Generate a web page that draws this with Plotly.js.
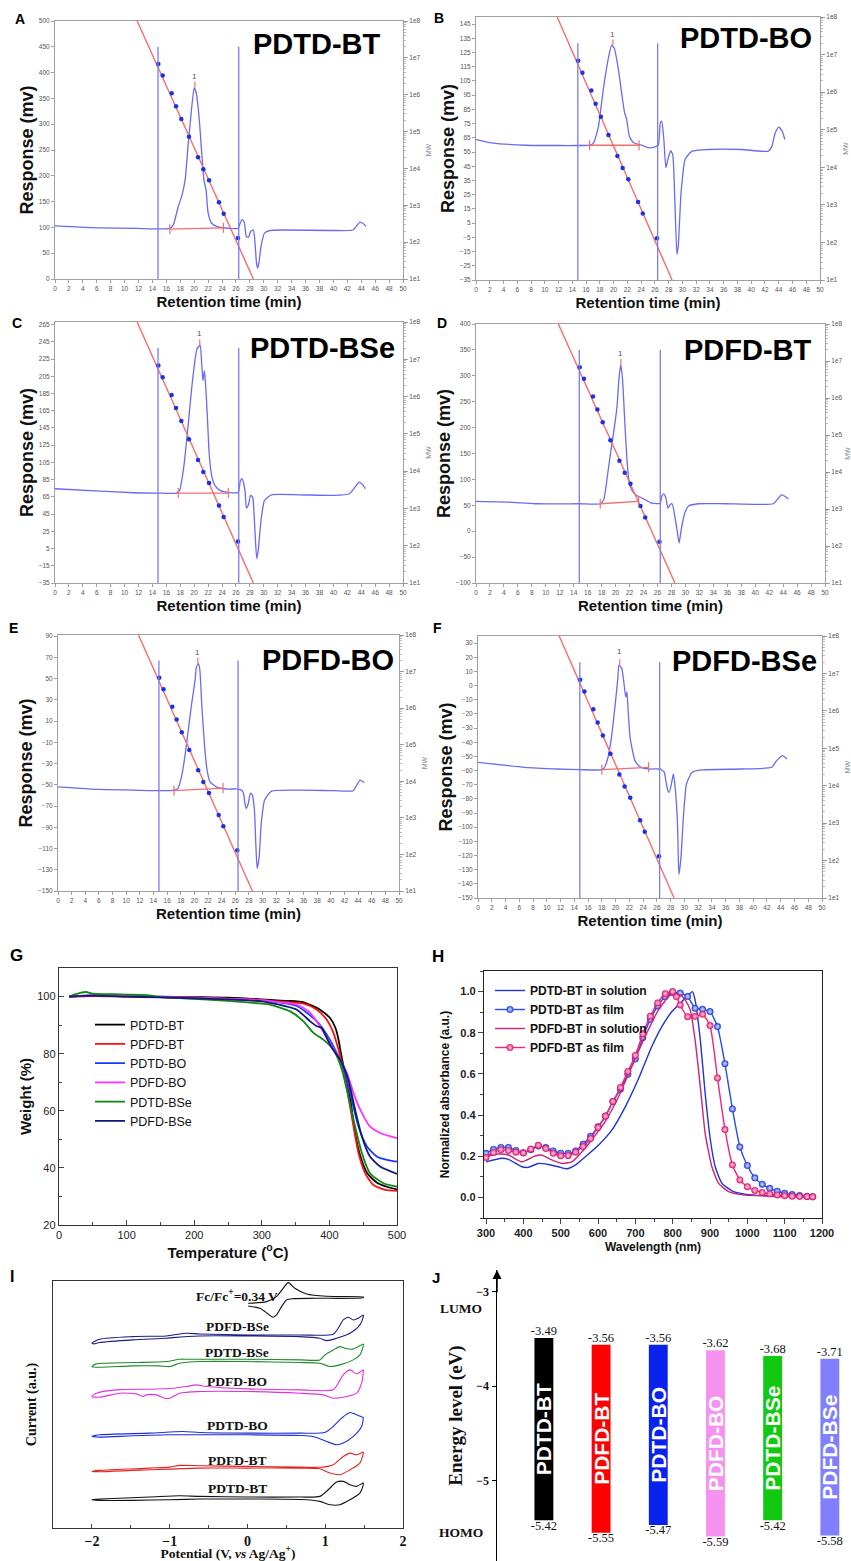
<!DOCTYPE html>
<html><head><meta charset="utf-8">
<script src="https://cdn.plot.ly/plotly-3.0.1.min.js"></script>
<style>html,body{margin:0;padding:0;background:#fff}#chart{width:851px;height:1561px}</style>
</head><body><div id="chart"></div>
<script>
// ================= DATA =================
// --- GPC traces (retention time in min, response in mV) ---
const timeA = [0,6.5,11.7,14.8,16.5,17,17.7,18.2,18.7,19.1,19.6,20,20.3,20.7,21.05,21.4,21.7,22,22.5,23.2,25.1,26.3,26.6,26.9,27.2,27.5,27.8,28.1,28.5,28.7,28.95,29.1,29.3,29.6,30.1,30.9,32.8,40,42.8,43.3,43.8,44.3,44.7];
const respA = [103,99,98,97,98,105,140,160,192,256,327,371,360,314,250,192,173,128,108,102,98,98,108,115,110,82,81,92,95,76,31,21,31,63,89,94,95,94,95,102,110,107,102];
const timeB = [0,2.3,7.2,12,14.8,16.6,17.1,17.8,18.5,19.2,19.7,20.1,20.7,21.3,21.6,21.9,22.3,22.9,24.1,25.1,26,26.5,26.8,27,27.3,27.6,27.9,28.3,28.6,28.9,29.2,29.4,29.8,30.4,31.4,33.8,38.6,42.5,43,43.5,44,44.5,44.9];
const respB = [63.8,61.5,59.8,59.6,59.6,59.8,61.5,73,99,120,130,128,113,92,82.6,78,66,61.5,59.8,58,58.6,60,75.6,76.8,64,44,50,56,53,21.5,-17,-11,26,50,55.6,56.8,56.8,55.6,59,68.5,72.5,69.7,63.8];
const timeC = [0,6.5,11.2,14.7,17.5,17.9,18.5,19.1,19.6,20.1,20.4,20.85,21.05,21.25,21.45,21.6,21.9,22.15,22.5,23,23.7,25.1,26.3,26.65,26.9,27.3,27.5,27.8,28.1,28.4,28.6,28.85,29,29.2,29.6,30.1,31.1,35.2,40,42.3,43.1,43.7,44.3,44.6];
const respC = [74.4,71.7,69.8,69.4,69.4,72.5,99.5,146,188,223,236.7,241,223,200,211.6,200,157,115,90,78,72.5,70,70,84,86,72.5,52,56,66.7,64.7,45.4,6.7,-6.8,2.9,37.7,60.9,67.4,67.4,66.7,68.6,76.3,82,78,74.4];
const timeD = [0,4.7,8.5,14.7,17.8,18.3,18.75,19.2,19.7,20.2,20.5,20.75,21,21.3,21.6,21.9,22.3,22.9,23.8,25.2,26.4,26.6,26.9,27.2,27.5,27.8,28.1,28.4,28.8,29.1,29.4,29.9,30.5,31.9,35.7,42.6,43.2,43.8,44.3,44.75];
const respD = [57.5,56,53,53,53,60.7,99,144,189,240.6,298,321,292,215,144,99,80,70,64,54,54,67,72,64,44.6,51,53,35,3,-23,3,35,49,53,53,53,62,70,67,62];
const timeE = [0,6.1,11,14.9,17.1,17.6,18.1,18.6,19.1,19.6,20.1,20.3,20.6,20.8,21.1,21.5,21.9,22.3,23.2,24.7,26.4,26.9,27.2,27.4,27.6,27.9,28.2,28.5,28.8,29,29.2,29.5,29.8,30.3,31.3,35.5,40.4,43.3,43.8,44.3,44.9];
const respE = [-51.9,-54.4,-55,-55.6,-55,-53.4,-42.5,-23.7,1.4,26.5,48.4,61,64,57.8,23.4,-14.3,-37.8,-47.2,-51.9,-54,-54,-55,-58,-67.6,-72.3,-67.6,-58,-59.7,-73.8,-105,-128.7,-117.7,-86.4,-64.4,-56,-55,-55.6,-55.6,-50.3,-45.6,-48];
const timeF = [0,6.8,11.65,14.8,18,18.4,18.9,19.4,19.9,20.3,20.5,20.9,21.1,21.4,21.5,21.65,21.85,22.1,22.4,22.8,23.5,24.8,26.5,26.8,27.1,27.3,27.6,27.8,28.2,28.4,28.7,29,29.2,29.5,29.85,30.3,31.1,32.5,38.3,42.7,43.4,44.3,44.9];
const respF = [-54.2,-57.7,-58.9,-59.4,-59.4,-57.7,-50.6,-36.4,-15.2,3.8,14.4,12,6.1,-5.7,-8.1,-4.5,-19.9,-36.4,-44.7,-53,-57.2,-58.9,-58.9,-60,-61.3,-67.2,-74.3,-75.4,-67.2,-62.4,-74.3,-97.9,-133.4,-121.5,-93.2,-69.5,-61.3,-59.6,-58.9,-57.7,-53,-49.4,-51.8];
const gpcNames = ['PDTD-BT','PDTD-BO','PDTD-BSe','PDFD-BT','PDFD-BO','PDFD-BSe'];
// calibration standards (retention time, MW) and calibration line
const stdTime = [14.85,15.47,16.76,17.39,18.15,19.25,20.55,21.31,22.13,23.56,24.24,26.29];
const stdMW = [6.8e6,3.3e6,1.1e6,4.9e5,2.2e5,7.2e4,2.0e4,9.5e3,4.8e3,1.2e3,5.9e2,1.3e2];
const calLineT = [11.8,28.5];
const calLineMW = [1e8,1e1];
// integration limits and baselines
const limitT = [14.8,26.4];
const baseT0 = [16.5,16.5,17.7,17.8,17.0,18.0];
const baseT1 = [24.2,23.7,24.9,23.3,24.2,24.8];
const baseY0 = [96.6,59.8,69.4,53,-55.6,-59.4];
const baseY1 = [99.2,59.8,69.4,57.5,-53.1,-57.7];
const peakT = [20.1,19.9,20.8,20.75,20.5,20.6];
const peakLabelY = [393,138,255,343,75,23.9];

// --- TGA (G) ---
const tgaNames = ['PDTD-BT','PDFD-BT','PDTD-BO','PDFD-BO','PDTD-BSe','PDFD-BSe'];
const tgaT_PDTD_BT = [15,50,100,150,200,250,300,312,338,362,386,401,409,413,417,423,431,438,446,456,470,485,500];
const tgaW_PDTD_BT = [100,100.3,100.1,100,99.8,99.6,99,98.8,98.5,98,95.4,92.5,89,85.5,80.2,73.2,63.9,52.2,44,38.1,34.9,33.4,32.5];
const tgaT_PDFD_BT = [15,50,100,150,200,250,300,312,362,381.5,396,406,413.5,421,428,435.7,443,453,465,483,500];
const tgaW_PDFD_BT = [100,100.2,100,99.8,99.6,99.3,98.8,98.5,97.5,95.4,91.9,87.3,81.4,74.4,65,54.5,45.2,38.1,34,32.3,32];
const tgaT_PDTD_BO = [15,50,100,150,200,250,300,312,351.8,366.6,381.5,396,411,423,433,443,455.6,470,485,500];
const tgaW_PDTD_BO = [100,100.4,100.2,99.8,99.5,99.2,98.6,98.4,96.7,94.3,91.3,86.7,80.2,73.2,63.9,54.5,47.5,44,42.8,42.2];
const tgaT_PDFD_BO = [15,50,100,150,200,250,300,312,351.8,371.6,386,403.7,416,426,435.7,445.6,460,475,500];
const tgaW_PDFD_BO = [100,100.5,100.2,99.8,99.6,99.2,98.7,98.4,97.2,94.3,89.6,82.6,77.9,73.2,66.2,60.4,54.5,52.2,50.4];
const tgaT_PDTD_BSe = [15,30,40,50,80,100,130,150,200,250,300,312,342,361.6,376.4,391,406,418.5,428,438,448,460,480,500];
const tgaW_PDTD_BSe = [100,101.2,101.6,101,100.8,100.7,100.5,99.8,99.2,98.5,97.5,97.2,94.8,91.3,87.3,84.9,81.4,74.4,65,54.5,45.2,38.1,34.6,33.4];
const tgaT_PDFD_BSe = [15,50,100,150,200,250,300,312,351.8,371.6,381.5,388.8,393.7,403.7,416,428,438,448,460,475,500];
const tgaW_PDFD_BSe = [100,100.3,100,99.7,99.4,99,98.3,97.8,95.4,91.3,89.6,89,86.7,82,77.9,70.9,60.4,51,44,40.5,37.9];

// --- UV-vis (H) ---
const uvNames = ['PDTD-BT in solution','PDTD-BT as film','PDFD-BT in solution','PDFD-BT as film'];
const wlSolPDTD = [300,342,360,396,413,440,467,494,516,539,566,601,637,673,709,744,771,798,824,842,853,860,874,887,901,914,932,959,994,1075,1178];
const absSolPDTD = [0.173,0.19,0.185,0.149,0.146,0.165,0.16,0.149,0.139,0.157,0.198,0.254,0.327,0.44,0.579,0.733,0.83,0.903,0.951,0.984,1.0,0.96,0.765,0.506,0.279,0.149,0.068,0.032,0.016,0.006,0.003];
const wlFilmPDTD = [300,320,340,360,380,400,420,440,460,480,500,520,540,560,580,600,620,640,660,680,700,720,740,760,780,800,820,840,860,880,900,920,940,960,980,1000,1020,1040,1060,1080,1100,1120,1140,1160,1175];
const absFilmPDTD = [0.214,0.233,0.243,0.243,0.228,0.217,0.232,0.25,0.243,0.226,0.215,0.214,0.226,0.258,0.297,0.343,0.395,0.466,0.525,0.598,0.672,0.776,0.865,0.93,0.975,0.995,0.993,0.976,0.919,0.914,0.903,0.83,0.65,0.43,0.245,0.155,0.095,0.064,0.044,0.03,0.02,0.014,0.009,0.005,0.003];
const wlSolPDFD = [300,333,360,396,431,449,476,503,530,557,583,619,655,690,726,762,789,802,820,833,847,860,874,887,905,923,950,994,1075,1178];
const absSolPDFD = [0.198,0.211,0.206,0.173,0.201,0.206,0.182,0.165,0.173,0.222,0.279,0.368,0.489,0.635,0.781,0.911,0.976,0.992,0.984,0.96,0.911,0.765,0.538,0.311,0.149,0.068,0.028,0.011,0.006,0.003];
const wlFilmPDFD = [300,320,340,360,380,400,420,440,460,480,500,520,540,560,580,600,620,640,660,680,700,720,740,760,780,800,810,820,840,860,880,900,920,940,960,980,1000,1020,1040,1060,1080,1100,1120,1140,1160,1175];
const absFilmPDFD = [0.194,0.218,0.232,0.228,0.22,0.216,0.235,0.253,0.238,0.214,0.202,0.203,0.22,0.247,0.286,0.34,0.395,0.466,0.534,0.612,0.69,0.795,0.88,0.945,0.99,1.0,0.975,0.935,0.878,0.88,0.89,0.835,0.58,0.33,0.158,0.085,0.052,0.034,0.024,0.017,0.012,0.008,0.006,0.005,0.004,0.003];

// --- Cyclic voltammetry (I): potential (V) and current (a.u., offset) ---
const cvNames = ['PDFD-BSe','PDTD-BSe','PDFD-BO','PDTD-BO','PDFD-BT','PDTD-BT'];
const cvFcV = [0.009,0.245,0.373,0.459,0.524,0.609,0.76,1.017,1.489,1.489,0.888,0.588,0.502,0.438,0.373,0.33,0.266,0.159,0.009];
const cvFcI = [6.75,6.8,6.95,7.2,7.37,7.2,7.03,6.96,6.94,6.92,6.9,6.89,6.85,6.65,6.4,6.33,6.43,6.6,6.67];
const cvV_PDFD_BSe = [-2,-1.901,-1.472,-1.043,-0.785,-0.614,0,0.674,1.103,1.167,1.232,1.296,1.361,1.425,1.489,1.489,1.446,1.318,1.146,1.017,0.931,0.674,0,-0.614,-0.957,-1.043,-1.472,-1.901,-1.974,-2];
const cvI_PDFD_BSe = [5.55,5.67,5.75,5.77,5.85,5.83,5.8,5.8,5.82,6.0,6.25,6.33,6.25,6.3,6.4,6.35,6.1,5.85,5.7,5.63,5.7,5.75,5.77,5.77,5.72,5.7,5.65,5.57,5.53,5.55];
const cvV_PDTD_BSe = [-2,-1.944,-1.472,-1.043,-0.871,-0.785,0,0.674,0.931,0.996,1.103,1.189,1.253,1.339,1.425,1.489,1.489,1.446,1.361,1.189,1.06,0.931,0.674,0,-0.614,-0.871,-1.0,-1.129,-1.472,-1.901,-2];
const cvI_PDTD_BSe = [4.85,4.93,4.97,5.0,5.07,5.07,5.07,5.05,5.05,5.2,5.35,5.45,5.4,5.37,5.45,5.53,5.47,5.2,5.05,4.9,4.85,4.95,4.97,5.0,5.0,4.95,4.85,4.87,4.87,4.83,4.85];
const cvV_PDFD_BO = [-2,-1.944,-1.687,-1.258,-0.957,-0.785,-0.657,-0.528,0,0.674,1.103,1.167,1.232,1.318,1.403,1.489,1.489,1.468,1.403,1.275,1.103,0.974,0.674,0,-0.614,-0.871,-1.0,-1.064,-1.172,-1.3,-1.343,-1.429,-1.515,-1.644,-1.901,-2];
const cvI_PDFD_BO = [3.95,4.05,4.15,4.17,4.2,4.25,4.3,4.25,4.18,4.15,4.15,4.35,4.6,4.75,4.63,4.75,4.7,4.35,4.05,3.95,3.9,4.0,4.05,4.1,4.1,4.05,3.9,3.9,4.0,4.0,3.95,4.03,4.05,4.05,3.93,3.95];
const cvV_PDTD_BO = [-2,-1.901,-1.258,-0.828,-0.614,0,0.674,0.996,1.103,1.21,1.318,1.403,1.489,1.489,1.468,1.361,1.232,1.146,1.017,0.845,0.674,0,-0.614,-1.0,-1.472,-1.901,-2];
const cvI_PDTD_BO = [2.75,2.8,2.85,2.9,2.87,2.85,2.85,2.87,3.05,3.3,3.47,3.4,3.32,3.3,3.05,2.75,2.55,2.5,2.6,2.75,2.78,2.8,2.8,2.8,2.77,2.73,2.75];
const cvV_PDFD_BT = [-2,-1.901,-1.258,-1.0,-0.871,-0.614,0,0.674,0.974,1.103,1.232,1.318,1.403,1.489,1.489,1.446,1.318,1.189,1.06,0.931,0.674,0,-0.614,-1.0,-1.472,-1.901,-2];
const cvI_PDFD_BT = [1.7,1.73,1.8,1.83,1.88,1.87,1.85,1.83,1.83,1.9,2.15,2.25,2.2,2.28,2.25,1.95,1.75,1.6,1.65,1.78,1.8,1.8,1.8,1.77,1.73,1.69,1.7];
const cvV_PDTD_BT = [-2,-1.901,-1.258,-0.871,-0.614,0,0.674,0.931,1.039,1.146,1.232,1.318,1.403,1.489,1.489,1.446,1.318,1.189,1.06,0.931,0.76,0,-0.614,-1.0,-1.472,-1.901,-2];
const cvI_PDTD_BT = [0.85,0.87,0.93,0.97,0.95,0.93,0.93,0.95,1.15,1.38,1.4,1.3,1.25,1.35,1.3,1.05,0.85,0.7,0.7,0.8,0.85,0.87,0.87,0.85,0.83,0.83,0.85];
const cvLabelY = [6.04,5.26,4.39,3.09,2.04,1.2];
const fcLabel = 'Fc/Fc<sup>+</sup>=0.34 V';
const fcLabelY = 6.97;

// --- Energy levels (J) ---
const elNames = ['PDTD-BT','PDFD-BT','PDTD-BO','PDFD-BO','PDTD-BSe','PDFD-BSe'];
const lumo = [-3.49,-3.56,-3.56,-3.62,-3.68,-3.71];
const homo = [-5.42,-5.55,-5.47,-5.59,-5.42,-5.58];

// ================= BUILD =================
const W = 851, H = 1561;
const SANS = 'Liberation Sans, Arial, Helvetica, sans-serif';
const SERIF = 'Liberation Serif, Times New Roman, serif';
const suf = n => (n === 1 ? '' : String(n));
const fx = p => p / W;
const fy = p => 1 - p / H;

const traces = [];
const shapes = [];
const annotations = [];
const layout = {
  width: W, height: H, margin: {l:0, r:0, t:0, b:0},
  paper_bgcolor: '#fff', plot_bgcolor: 'rgba(0,0,0,0)',
  font: {family: SANS, color: '#000'},
  shapes: shapes, annotations: annotations
};

// ---------- A–F ----------
const gpcTimes = [timeA,timeB,timeC,timeD,timeE,timeF];
const gpcResps = [respA,respB,respC,respD,respE,respF];
const gpcBox = [[55,403,21,279],[476,820,17,280],[55,403,322,583],[476,825,324,583],[58,399,635,891],[478,822,636,898]];
const gpcYRange = [[0,500],[-35,150],[-35,268],[-100,400],[-150,91],[-150,35]];
const gpcDtick = [50,10,20,50,20,10];
const gpcTitlePos = [[317,44],[746,38],[322,348],[748,350],[328,660],[744,661]];
const letterPos = [[20,19],[439,18],[17,323],[442,323],[13,628],[437,628]];
const letters = ['A','B','C','D','E','F'];
const GPC_BLUE = '#6a6af4', GPC_RED = '#f26e6e', DOT = '#1633e8', LIM = '#7b7bf3';

for (let i = 0; i < 6; i++) {
  const n = i + 1, b = gpcBox[i];
  const xr = 'x' + suf(n), yr = 'y' + suf(n), rr = 'y' + (11 + i);
  layout['xaxis' + suf(n)] = {
    domain: [fx(b[0]), fx(b[1])], anchor: yr, range: [0, 50], tick0: 0, dtick: 2,
    ticks: 'outside', ticklen: 3, tickwidth: 0.8, tickcolor: '#888',
    showline: true, linecolor: '#a0a0a0', linewidth: 1, mirror: true,
    showgrid: false, zeroline: false,
    tickfont: {family: SANS, size: 6.5, color: '#555'},
    title: {text: 'Retention time (min)', font: {family: SANS, size: 15, weight: 'bold', color: '#111'}, standoff: 5}
  };
  layout['yaxis' + suf(n)] = {
    domain: [fy(b[3]), fy(b[2])], anchor: xr, range: gpcYRange[i],
    tick0: gpcYRange[i][0], dtick: gpcDtick[i],
    ticks: 'outside', ticklen: 3, tickwidth: 0.8, tickcolor: '#888',
    showline: true, linecolor: '#a0a0a0', linewidth: 1,
    showgrid: false, zeroline: false,
    tickfont: {family: SANS, size: 6.5, color: '#555'},
    title: {text: 'Response (mv)', font: {family: SANS, size: 18, weight: 'bold', color: '#111'}, standoff: 0}
  };
  layout['yaxis' + (11 + i)] = {
    overlaying: yr, side: 'right', anchor: xr, type: 'log', range: [1, 8],
    tickvals: [1e1,1e2,1e3,1e4,1e5,1e6,1e7,1e8],
    ticktext: ['1e1','1e2','1e3','1e4','1e5','1e6','1e7','1e8'],
    ticks: 'outside', ticklen: 4, tickwidth: 0.8, tickcolor: '#888',
    minor: {ticks: 'outside', ticklen: 2, tickcolor: '#aaa', dtick: 'D1', showgrid: false},
    showline: true, linecolor: '#a0a0a0', linewidth: 1,
    showgrid: false, zeroline: false,
    tickfont: {family: SANS, size: 6.5, color: '#555'},
    title: {text: 'MW', font: {family: SANS, size: 7, color: '#888'}, standoff: 6}
  };
  traces.push({x: gpcTimes[i], y: gpcResps[i], xaxis: xr, yaxis: yr, mode: 'lines',
    line: {color: GPC_BLUE, width: 1.3, shape: 'spline', smoothing: 0.5}, showlegend: false, hoverinfo: 'skip'});
  traces.push({x: calLineT, y: calLineMW, xaxis: xr, yaxis: rr, mode: 'lines',
    line: {color: GPC_RED, width: 1.4}, showlegend: false, hoverinfo: 'skip'});
  traces.push({x: stdTime, y: stdMW, xaxis: xr, yaxis: rr, mode: 'markers',
    marker: {color: DOT, size: 4.5}, showlegend: false, hoverinfo: 'skip'});
  limitT.forEach(t => shapes.push({type: 'line', xref: xr, yref: yr + ' domain', x0: t, x1: t, y0: 0, y1: 0.9,
    line: {color: LIM, width: 1.3}}));
  shapes.push({type: 'line', xref: xr, yref: yr, x0: baseT0[i], x1: baseT1[i], y0: baseY0[i], y1: baseY1[i],
    line: {color: GPC_RED, width: 1.3}});
  [[baseT0[i], baseY0[i]], [baseT1[i], baseY1[i]]].forEach(p => shapes.push({type: 'line', xref: xr, yref: yr,
    ysizemode: 'pixel', yanchor: p[1], x0: p[0], x1: p[0], y0: -5, y1: 5, line: {color: GPC_RED, width: 1.2}}));
  const pk = Math.max(...gpcResps[i]);
  shapes.push({type: 'line', xref: xr, yref: yr, ysizemode: 'pixel', yanchor: pk, x0: peakT[i], x1: peakT[i],
    y0: 0, y1: 6, line: {color: GPC_RED, width: 1.2}});
  annotations.push({xref: xr, yref: yr, x: peakT[i], y: peakLabelY[i], text: '1', showarrow: false,
    font: {family: SANS, size: 8, color: '#555'}});
  annotations.push({xref: 'paper', yref: 'paper', x: fx(gpcTitlePos[i][0]), y: fy(gpcTitlePos[i][1]),
    text: gpcNames[i], showarrow: false, xanchor: 'center', yanchor: 'middle',
    font: {family: SANS, size: 29, weight: 'bold', color: '#000'}});
  annotations.push({xref: 'paper', yref: 'paper', x: fx(letterPos[i][0]), y: fy(letterPos[i][1]),
    text: letters[i], showarrow: false, xanchor: 'center', yanchor: 'middle',
    font: {family: SANS, size: 14, weight: 'bold', color: '#000'}});
}

// ---------- G: TGA ----------
const tgaT = [tgaT_PDTD_BT, tgaT_PDFD_BT, tgaT_PDTD_BO, tgaT_PDFD_BO, tgaT_PDTD_BSe, tgaT_PDFD_BSe];
const tgaW = [tgaW_PDTD_BT, tgaW_PDFD_BT, tgaW_PDTD_BO, tgaW_PDFD_BO, tgaW_PDTD_BSe, tgaW_PDFD_BSe];
const tgaColors = ['#000000','#ff1010','#1a3cff','#ff33ff','#0b8a12','#10187a'];
tgaNames.forEach((nm, k) => traces.push({x: tgaT[k], y: tgaW[k], name: nm, xaxis: 'x7', yaxis: 'y7', mode: 'lines',
  line: {color: tgaColors[k], width: 1.8, shape: 'spline', smoothing: 0.6}, legend: 'legend', hoverinfo: 'skip'}));
layout.xaxis7 = {domain: [fx(59), fx(397)], anchor: 'y7', range: [0, 500], dtick: 100, tick0: 0,
  ticks: 'inside', ticklen: 5, minor: {ticks: 'inside', ticklen: 3, dtick: 50},
  showline: true, linecolor: '#333', linewidth: 1.2, mirror: true, showgrid: false, zeroline: false,
  tickfont: {family: SANS, size: 11, color: '#222'},
  title: {text: 'Temperature (<sup>o</sup>C)', font: {family: SANS, size: 15, weight: 'bold', color: '#111'}, standoff: 3}};
layout.yaxis7 = {domain: [fy(1225), fy(968)], anchor: 'x7', range: [20, 110], dtick: 20, tick0: 20,
  ticks: 'inside', ticklen: 5, minor: {ticks: 'inside', ticklen: 3, dtick: 10},
  showline: true, linecolor: '#333', linewidth: 1.2, mirror: true, showgrid: false, zeroline: false,
  tickfont: {family: SANS, size: 11, color: '#222'},
  title: {text: 'Weight (%)', font: {family: SANS, size: 15, weight: 'bold', color: '#111'}, standoff: 2}};
layout.legend = {x: fx(90), y: fy(1010), xanchor: 'left', yanchor: 'top', bgcolor: 'rgba(0,0,0,0)',
  font: {family: SANS, size: 12.5, color: '#111'}, itemwidth: 30, tracegroupgap: 0, borderwidth: 0};

// ---------- H: UV-vis ----------
const blueSol = '#2233d4', blueFilm = '#2a4af2', pinkSol = '#cc2277', pinkFilm = '#f0247c';
traces.push({x: wlSolPDTD, y: absSolPDTD, name: uvNames[0], xaxis: 'x8', yaxis: 'y8', mode: 'lines',
  line: {color: blueSol, width: 1.4, shape: 'spline', smoothing: 0.5}, legend: 'legend2', hoverinfo: 'skip'});
traces.push({x: wlFilmPDTD, y: absFilmPDTD, name: uvNames[1], xaxis: 'x8', yaxis: 'y8', mode: 'lines+markers',
  line: {color: blueFilm, width: 1.4, shape: 'spline', smoothing: 0.5},
  marker: {symbol: 'circle', size: 6.5, color: blueFilm, gradient: {type: 'radial', color: '#dfe5ff'}, line: {color: '#1a30c0', width: 0.5}},
  legend: 'legend2', hoverinfo: 'skip'});
traces.push({x: wlSolPDFD, y: absSolPDFD, name: uvNames[2], xaxis: 'x8', yaxis: 'y8', mode: 'lines',
  line: {color: pinkSol, width: 1.4, shape: 'spline', smoothing: 0.5}, legend: 'legend2', hoverinfo: 'skip'});
traces.push({x: wlFilmPDFD, y: absFilmPDFD, name: uvNames[3], xaxis: 'x8', yaxis: 'y8', mode: 'lines+markers',
  line: {color: pinkFilm, width: 1.4, shape: 'spline', smoothing: 0.5},
  marker: {symbol: 'circle', size: 6.5, color: pinkFilm, gradient: {type: 'radial', color: '#ffd6e8'}, line: {color: '#c01060', width: 0.5}},
  legend: 'legend2', hoverinfo: 'skip'});
layout.xaxis8 = {domain: [fx(484), fx(822)], anchor: 'y8', range: [294.6, 1200], dtick: 100, tick0: 0,
  ticks: 'outside', ticklen: 5, minor: {ticks: 'outside', ticklen: 3, dtick: 50},
  showline: true, linecolor: '#222', linewidth: 1.2, mirror: true, showgrid: false, zeroline: false,
  tickfont: {family: SANS, size: 11, weight: 'bold', color: '#222'},
  title: {text: 'Wavelength (nm)', font: {family: SANS, size: 12, weight: 'bold', color: '#111'}, standoff: 4}};
layout.yaxis8 = {domain: [fy(1218), fy(971)], anchor: 'x8', range: [-0.1, 1.1], dtick: 0.2, tick0: 0, tickformat: '.1f',
  ticks: 'outside', ticklen: 5, minor: {ticks: 'outside', ticklen: 3, dtick: 0.1},
  showline: true, linecolor: '#222', linewidth: 1.2, mirror: true, showgrid: false, zeroline: false,
  tickfont: {family: SANS, size: 11, weight: 'bold', color: '#222'},
  title: {text: 'Normalized absorbance (a.u.)', font: {family: SANS, size: 12, weight: 'bold', color: '#111'}, standoff: 8}};
layout.legend2 = {x: fx(490), y: fy(976), xanchor: 'left', yanchor: 'top', bgcolor: 'rgba(0,0,0,0)',
  font: {family: SANS, size: 12, weight: 'bold', color: '#111'}, itemwidth: 30, tracegroupgap: 0, borderwidth: 0};

// ---------- I: CV ----------
const cvV = [cvV_PDFD_BSe, cvV_PDTD_BSe, cvV_PDFD_BO, cvV_PDTD_BO, cvV_PDFD_BT, cvV_PDTD_BT];
const cvI = [cvI_PDFD_BSe, cvI_PDTD_BSe, cvI_PDFD_BO, cvI_PDTD_BO, cvI_PDFD_BT, cvI_PDTD_BT];
const cvColors = ['#1c1c86','#1f8a2a','#e030e0','#1d2fd6','#e02424','#111111'];
traces.push({x: cvFcV, y: cvFcI, xaxis: 'x9', yaxis: 'y9', mode: 'lines',
  line: {color: '#111', width: 1.1, shape: 'spline', smoothing: 0.7}, showlegend: false, hoverinfo: 'skip'});
cvNames.forEach((nm, k) => {
  traces.push({x: cvV[k], y: cvI[k], name: nm, xaxis: 'x9', yaxis: 'y9', mode: 'lines',
    line: {color: cvColors[k], width: 1.1, shape: 'spline', smoothing: 0.7}, showlegend: false, hoverinfo: 'skip'});
  annotations.push({xref: 'x9', yref: 'y9', x: -0.13, y: cvLabelY[k], text: nm, showarrow: false,
    xanchor: 'center', yanchor: 'middle', font: {family: SERIF, size: 13.5, weight: 'bold', color: '#111'}});
});
annotations.push({xref: 'x9', yref: 'y9', x: -0.13, y: fcLabelY, text: fcLabel, showarrow: false,
  xanchor: 'center', yanchor: 'middle', font: {family: SERIF, size: 13.5, weight: 'bold', color: '#111'}});
layout.xaxis9 = {domain: [fx(53), fx(403)], anchor: 'y9', range: [-2.5, 2], tickvals: [-2,-1,0,1,2],
  ticks: 'inside', ticklen: 4, minor: {ticks: 'inside', ticklen: 3, dtick: 0.5, tick0: 0},
  showline: true, linecolor: '#333', linewidth: 1.2, mirror: true, showgrid: false, zeroline: false,
  tickfont: {family: SERIF, size: 14, weight: 'bold', color: '#111'},
  title: {text: 'Potential (V, <i>vs</i> Ag/Ag<sup>+</sup>)', font: {family: SERIF, size: 13.5, weight: 'bold', color: '#111'}, standoff: 3}};
layout.yaxis9 = {domain: [fy(1528), fy(1281)], anchor: 'x9', range: [0, 7.42], showticklabels: false, ticks: '',
  showline: true, linecolor: '#333', linewidth: 1.2, mirror: true, showgrid: false, zeroline: false,
  title: {text: 'Current (a.u.)', font: {family: SERIF, size: 14, weight: 'bold', color: '#111'}, standoff: 12}};

// ---------- J: energy levels ----------
const elColors = ['#000000','#ff0000','#0a22ee','#f592f0','#11c911','#8080ff'];
const idx = elNames.map((_, k) => k);
traces.push({type: 'bar', x: idx, y: lumo.map((v, k) => v - homo[k]), base: homo, width: 0.33,
  marker: {color: elColors, line: {width: 0}}, text: elNames, textposition: 'inside', insidetextanchor: 'middle',
  textangle: -90, constraintext: 'none', textfont: {family: SANS, size: 21, weight: 'bold', color: '#fff'},
  xaxis: 'x10', yaxis: 'y10', showlegend: false, hoverinfo: 'skip'});
traces.push({x: idx, y: lumo, text: lumo.map(v => v.toFixed(2)), mode: 'text', textposition: 'top center',
  textfont: {family: SERIF, size: 12.5, color: '#111'}, xaxis: 'x10', yaxis: 'y10', showlegend: false, cliponaxis: false, hoverinfo: 'skip'});
traces.push({x: idx, y: homo, text: homo.map(v => v.toFixed(2)), mode: 'text', textposition: 'bottom center',
  textfont: {family: SERIF, size: 12.5, color: '#111'}, xaxis: 'x10', yaxis: 'y10', showlegend: false, cliponaxis: false, hoverinfo: 'skip'});
layout.xaxis10 = {domain: [fx(497), 1], anchor: 'y10', range: [-0.82, 5.37], visible: false, showgrid: false, zeroline: false};
layout.yaxis10 = {domain: [0, fy(1270)], anchor: 'x10', range: [-5.85, -2.77], tickvals: [-3,-4,-5],
  ticks: 'outside', ticklen: 4, tickcolor: '#000', showline: true, linecolor: '#000', linewidth: 1.5,
  showgrid: false, zeroline: false,
  tickfont: {family: SERIF, size: 12, weight: 'bold', color: '#111'},
  title: {text: 'Energy level (eV)', font: {family: SERIF, size: 19, weight: 'bold', color: '#111'}, standoff: 8}};
annotations.push({xref: 'x10', yref: 'y10', x: -0.82, y: -2.77, ax: 0, ay: 24, text: '', showarrow: true,
  arrowhead: 2, arrowsize: 1.2, arrowwidth: 1.5, arrowcolor: '#000'});
annotations.push({xref: 'paper', yref: 'paper', x: fx(461), y: fy(1308), xanchor: 'center', yanchor: 'middle',
  text: 'LUMO', showarrow: false, font: {family: SERIF, size: 13.5, weight: 'bold', color: '#111'}});
annotations.push({xref: 'paper', yref: 'paper', x: fx(461), y: fy(1532), xanchor: 'center', yanchor: 'middle',
  text: 'HOMO', showarrow: false, font: {family: SERIF, size: 13.5, weight: 'bold', color: '#111'}});

// letters G–J
[['G',16,955,17],['H',438,956,17],['I',12,1276,16],['J',436,1277,15]].forEach(l =>
  annotations.push({xref: 'paper', yref: 'paper', x: fx(l[1]), y: fy(l[2]), text: l[0], showarrow: false,
    xanchor: 'center', yanchor: 'middle', font: {family: SANS, size: l[3], weight: 'bold', color: '#000'}}));

Plotly.newPlot('chart', traces, layout, {staticPlot: true, displayModeBar: false});
</script></body></html>
